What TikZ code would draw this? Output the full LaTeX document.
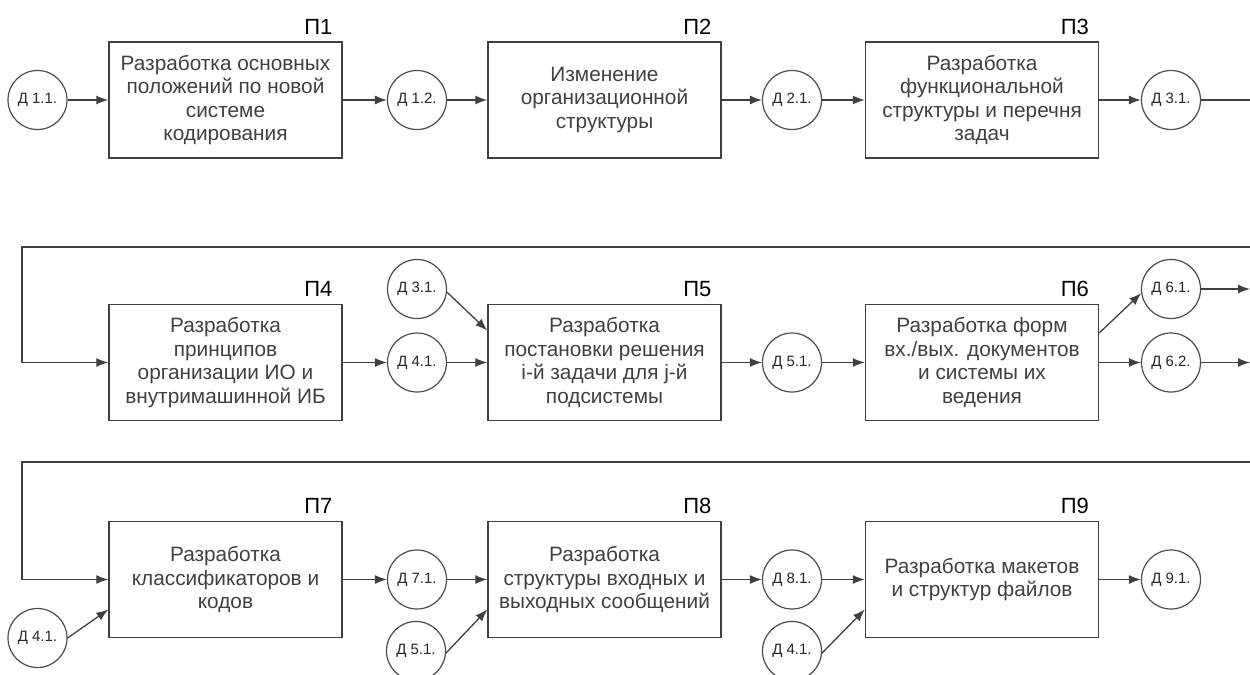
\documentclass[tikz,border=0pt]{standalone}
\usepackage{fontspec}
\setmainfont{Liberation Sans}
\usetikzlibrary{arrows.meta}
\begin{document}
\begin{tikzpicture}[x=0.5pt,y=-0.5pt,
  proc/.style={draw=black!75, line width=0.7pt, minimum width=116.5pt,
    minimum height=58pt, inner sep=2pt, align=center,
    font=\fontsize{10.4}{11.7}\selectfont, text=black!75},
  doc/.style={circle, draw=black!70, line width=0.6pt, minimum size=29.5pt,
    inner sep=0pt, font=\fontsize{7.5}{9}\selectfont, text=black!85},
  plabel/.style={anchor=base east, font=\fontsize{11}{13}\selectfont, inner sep=0pt},
  link/.style={draw=black!75, line width=0.65pt},
  arr/.style={link, -{Latex[length=6pt,width=4.5pt]}},
]
\clip (0,0) rectangle (1250,675);
\useasboundingbox (0,0) rectangle (1250,675);

% ---------- row 1 ----------
\node[doc]  (d11) at (37.5,100) {Д 1.1.};
\node[proc] (P1)  at (225.5,100) {Разработка основных\\положений по новой\\системе\\кодирования};
\node[doc]  (d12) at (417,100) {Д 1.2.};
\node[proc] (P2)  at (604.5,100) {Изменение\\организационной\\структуры};
\node[doc]  (d21) at (792,100) {Д 2.1.};
\node[proc] (P3)  at (982,100) {Разработка\\функциональной\\структуры и перечня\\задач};
\node[doc]  (d31) at (1171,100) {Д 3.1.};
\coordinate (e1) at (1250,100);

% ---------- row 2 ----------
\node[doc]  (d31b) at (417,289) {Д 3.1.};
\node[proc] (P4)  at (225.5,362.5) {Разработка\\принципов\\организации ИО и\\внутримашинной ИБ};
\node[doc]  (d41) at (417,362.5) {Д 4.1.};
\node[proc] (P5)  at (604.5,362.5) {Разработка\\постановки решения\\i-й задачи для j-й\\подсистемы};
\node[doc]  (d51) at (792,362.5) {Д 5.1.};
\node[proc] (P6)  at (982,362.5) {Разработка форм\\вх./вых. документов\\и системы их\\ведения};
\node[doc]  (d61) at (1171,289) {Д 6.1.};
\node[doc]  (d62) at (1171,362.5) {Д 6.2.};
\coordinate (e61) at (1250,289);
\coordinate (e62) at (1250,362.5);
\coordinate (r2) at (1250,247);
\coordinate (k2) at (22,247);

% ---------- row 3 ----------
\node[proc] (P7)  at (225.5,579.5) {Разработка\\классификаторов и\\кодов};
\node[doc]  (d41c) at (37.5,638) {Д 4.1.};
\node[doc]  (d71) at (417,579.5) {Д 7.1.};
\node[doc]  (d51c) at (416,651) {Д 5.1.};
\node[proc] (P8)  at (604.5,579.5) {Разработка\\структуры входных и\\выходных сообщений};
\node[doc]  (d81) at (792,579.5) {Д 8.1.};
\node[doc]  (d41d) at (792,651) {Д 4.1.};
\node[proc] (P9)  at (982,579.5) {Разработка макетов\\и структур файлов};
\node[doc]  (d91) at (1171,579.5) {Д 9.1.};
\coordinate (r3) at (1250,462);
\coordinate (k3) at (22,462);

% ---------- process labels ----------
\foreach \p/\t in {P1/П1,P2/П2,P3/П3,P4/П4,P5/П5,P6/П6,P7/П7,P8/П8,P9/П9}
  \node[plabel] (L\p) at ([shift={(-5pt,3.5pt)}]\p.north east) {\t};

% ---------- connectors ----------
\draw[arr] (d11) -- (P1);
\draw[arr] (P1) -- (d12);
\draw[arr] (d12) -- (P2);
\draw[arr] (P2) -- (d21);
\draw[arr] (d21) -- (P3);
\draw[arr] (P3) -- (d31);
\draw[link] (d31) -- (e1);

\draw[arr] (r2) -- (k2) |- (P4.west);
\draw[arr] (P4) -- (d41);
\draw[arr] (d41) -- (P5);
\draw[arr] (d31b.-6) -- ([yshift=16pt]P5.west);
\draw[arr] (P5) -- (d51);
\draw[arr] (d51) -- (P6);
\draw[arr] ([yshift=14.75pt]P6.east) -- (d61.188);
\draw[arr] (P6) -- (d62);
\draw[arr] (d61) -- (e61);
\draw[arr] (d62) -- (e62);

\draw[arr] (r3) -- (k3) |- (P7.west);
\draw[arr] (d41c.east) -- ([yshift=-15pt]P7.west);
\draw[arr] (P7) -- (d71);
\draw[arr] (d71) -- (P8);
\draw[arr] (d51c.-4) -- ([yshift=-15pt]P8.west);
\draw[arr] (P8) -- (d81);
\draw[arr] (d81) -- (P9);
\draw[arr] (d41d.-4) -- ([yshift=-15pt]P9.west);
\draw[arr] (P9) -- (d91);
\end{tikzpicture}
\end{document}
